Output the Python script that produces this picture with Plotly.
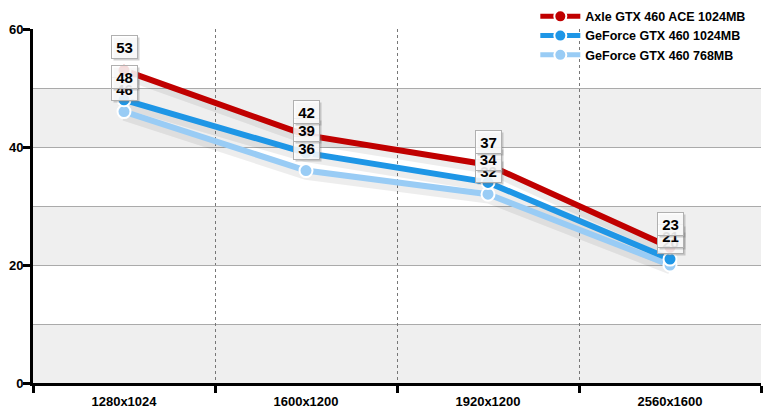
import plotly.graph_objects as go

categories = ["1280x1024", "1600x1200", "1920x1200", "2560x1600"]
series_names = ["Axle GTX 460 ACE 1024MB", "GeForce GTX 460 1024MB", "GeForce GTX 460 768MB"]
axle = [53, 42, 37, 23]
gf1024 = [48, 39, 34, 21]
gf768 = [46, 36, 32, 20]
y_ticks = [0, 20, 40, 60]

colors = ["#c00000", "#1e96e6", "#99ccf5"]
series = [axle, gf1024, gf768]

fig = go.Figure()

# alternating bands
for lo in [0, 20, 40]:
    fig.add_shape(type="rect", xref="paper", yref="y", x0=0, x1=1, y0=lo, y1=lo + 10,
                  fillcolor="#efefef", line_width=0, layer="below")

order = [2, 1, 0]
for i in order:
    fig.add_trace(go.Scatter(x=categories, y=[v - 0.8 for v in series[i]], mode="lines",
                             line=dict(color="rgba(0,0,0,0.07)", width=9),
                             hoverinfo="skip", showlegend=False))
for i in order:
    fig.add_trace(go.Scatter(x=categories, y=series[i], mode="lines+markers",
                             name=f"<b>{series_names[i]}</b>",
                             line=dict(color=colors[i], width=6),
                             marker=dict(size=13, color=colors[i], line=dict(color="white", width=2)),
                             legendrank=i + 1))

for i in order:
    for c, v in zip(categories, series[i]):
        fig.add_annotation(x=c, y=v, yshift=21, xshift=2, text=f"<b>{v}</b>", showarrow=False,
                           font=dict(family="Liberation Sans", size=15, color="rgba(0,0,0,0)"),
                           bgcolor="rgba(120,120,120,0.35)", borderpad=2, width=21, height=18)
        fig.add_annotation(x=c, y=v, yshift=23, text=f"<b>{v}</b>", showarrow=False,
                           font=dict(family="Liberation Sans", size=15, color="black"),
                           bgcolor="rgba(255,255,255,0.85)", bordercolor="#b0b0b0", borderwidth=1,
                           borderpad=2, width=21, height=18)

fig.update_layout(
    width=777, height=417,
    margin=dict(l=25, r=24, t=21, b=42, autoexpand=False),
    paper_bgcolor="white", plot_bgcolor="white",
    font=dict(family="Liberation Sans", size=12, color="black"),
    showlegend=True,
    legend=dict(x=0.69, y=1.077, xanchor="left", yanchor="top", bgcolor="rgba(0,0,0,0)",
                font=dict(family="Liberation Sans", size=12.5, color="black"),
                tracegroupgap=0, itemsizing="constant", itemwidth=40),
    xaxis=dict(type="category", range=[-0.5, 3.5], tickson="boundaries", ticks="outside",
               ticklen=7, tickwidth=3, tickcolor="black", showline=True, linecolor="black",
               linewidth=3, showgrid=True, gridcolor="#777777", griddash="dot", gridwidth=1,
               tickfont=dict(family="Liberation Sans", size=13, color="black"),
               ticklabelstandoff=4,
               ticktext=[f"<b>{c}</b>" for c in categories], tickvals=categories, zeroline=False,
               automargin=False),
    yaxis=dict(range=[0, 60], tickvals=y_ticks, ticktext=[f"<b>{t}</b>" for t in y_ticks],
               ticks="outside", ticklen=7, tickwidth=3, tickcolor="black", showline=True,
               linecolor="black", linewidth=3, showgrid=True, gridcolor="#aaaaaa", gridwidth=1,
               minor=dict(dtick=10, showgrid=True, gridcolor="#aaaaaa", gridwidth=1, ticks=""),
               ticklabelstandoff=-3,
               tickfont=dict(family="Liberation Sans", size=13, color="black"), zeroline=False,
               automargin=False),
)

fig.write_html("out.html")
